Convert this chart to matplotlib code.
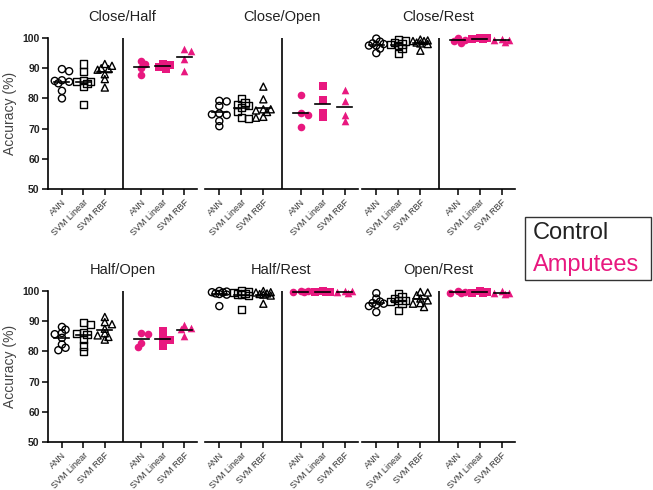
import numpy as np
import matplotlib.pyplot as plt
from matplotlib.patches import Rectangle

plt.rcParams['font.family'] = ['Liberation Sans', 'DejaVu Sans']

# Data: accuracy (%) per subject, [ANN, SVM Linear, SVM RBF]
methods = ['ANN', 'SVM Linear', 'SVM RBF']

close_half_ctrl = [[89.7, 89.0, 86.0, 85.5, 85.8, 85.0, 82.5, 80.0],
                   [91.4, 89.0, 85.5, 85.0, 84.0, 85.6, 78.0, 86.0],
                   [91.4, 90.8, 89.7, 88.0, 86.4, 83.6, 90.0, 89.5]]
close_half_amp = [[92.5, 91.4, 90.2, 87.7],
                  [91.5, 91.0, 89.8, 90.5],
                  [95.8, 96.3, 93.0, 89.1]]

close_open_ctrl = [[79.2, 79.0, 77.5, 74.7, 74.5, 75.0, 72.5, 70.8],
                   [80.0, 78.6, 77.5, 75.8, 76.9, 73.3, 73.6, 78.0],
                   [83.9, 79.7, 76.4, 76.4, 73.6, 73.9, 76.0, 75.5]]
close_open_amp = [[81.2, 75.0, 74.4, 70.5],
                  [84.0, 79.4, 75.3, 73.8],
                  [82.8, 79.2, 74.4, 72.5]]

close_rest_ctrl = [[99.8, 98.8, 98.0, 97.5, 97.5, 96.5, 95.0, 98.2],
                   [99.5, 98.5, 97.5, 96.5, 95.0, 98.0, 99.0, 97.8],
                   [99.5, 99.0, 98.5, 98.0, 99.0, 98.2, 95.8, 99.2]]
close_rest_amp = [[99.0, 99.5, 98.5, 100.0],
                  [99.8, 100.0, 99.6, 99.9],
                  [99.5, 98.8, 99.8, 99.2]]

half_open_ctrl = [[88.1, 87.2, 86.1, 85.7, 84.5, 82.3, 81.2, 80.4],
                  [89.0, 89.7, 86.4, 85.9, 83.9, 81.8, 80.0, 85.5],
                  [91.4, 89.7, 89.0, 87.5, 84.8, 85.3, 83.9, 86.0]]
half_open_amp = [[85.9, 86.1, 82.8, 81.5],
                 [86.6, 84.5, 83.9, 81.8],
                 [88.6, 87.9, 87.5, 85.0]]

half_rest_ctrl = [[99.8, 99.5, 99.2, 100.0, 99.6, 99.0, 98.8, 95.0],
                  [100.0, 99.8, 99.2, 99.5, 98.8, 99.0, 98.5, 93.8],
                  [100.0, 99.5, 99.0, 98.8, 99.6, 99.2, 98.5, 95.8]]
half_rest_amp = [[99.8, 100.0, 99.6, 99.9],
                 [99.6, 100.0, 99.8, 99.7],
                 [99.7, 99.9, 99.5, 100.0]]

open_rest_ctrl = [[99.3, 97.5, 96.5, 96.0, 95.5, 95.8, 95.0, 93.0],
                  [99.1, 97.5, 96.9, 95.8, 93.4, 97.0, 96.5, 98.0],
                  [99.7, 99.5, 98.6, 96.9, 95.8, 94.7, 97.5, 96.0]]
open_rest_amp = [[99.5, 100.0, 99.2, 99.8],
                 [99.3, 99.8, 100.0, 99.5],
                 [99.0, 99.5, 100.0, 99.3]]

titles = ['Close/Half', 'Close/Open', 'Close/Rest',
          'Half/Open', 'Half/Rest', 'Open/Rest']
ctrl_sets = [close_half_ctrl, close_open_ctrl, close_rest_ctrl,
             half_open_ctrl, half_rest_ctrl, open_rest_ctrl]
amp_sets = [close_half_amp, close_open_amp, close_rest_amp,
            half_open_amp, half_rest_amp, open_rest_amp]

PINK = '#e8187f'
markers = ['o', 's', '^']
ctrl_pos = [0, 1, 2]
amp_pos = [3.7, 4.7, 5.7]
divider = 2.85


def spread(vals, ppu_x=21.5, ppu_y=3.02, diam=4.5, step=3.6):
    # simple swarm: shift points sideways when they would overlap
    vals = np.asarray(vals, dtype=float)
    offs = np.zeros(len(vals))
    placed = []
    side = 1
    for i in np.argsort(-vals):
        best, best_d = 0.0, -1
        for k in [0, side, -side, 2 * side, -2 * side]:
            dx = k * step / ppu_x
            if placed:
                d = min(np.hypot((dx - offs[j]) * ppu_x, (vals[i] - vals[j]) * ppu_y)
                        for j in placed)
            else:
                d = 99
            if d >= diam:
                best = dx
                break
            if d > best_d:
                best, best_d = dx, d
        offs[i] = best
        if best != 0:
            side = -side
        placed.append(i)
    return offs


fig = plt.figure(figsize=(6.53, 4.9), dpi=100)
W, H = 653, 490
boxes = [(48, 38, 149), (205, 38, 153), (362, 38, 153),
         (48, 291, 149), (205, 291, 153), (362, 291, 153)]

for n, (x0, y0, w) in enumerate(boxes):
    ax = fig.add_axes([x0 / W, 1 - (y0 + 151) / H, w / W, 151 / H])
    for k in range(3):
        c = np.array(ctrl_sets[n][k])
        ax.scatter(ctrl_pos[k] + spread(c), c, marker=markers[k], s=26,
                   facecolors='none', edgecolors='black', linewidths=1.0,
                   clip_on=False, zorder=3)
        ax.plot([ctrl_pos[k] - 0.35, ctrl_pos[k] + 0.35], [c.mean()] * 2,
                color='black', lw=1.2, zorder=4, clip_on=False)
        a = np.array(amp_sets[n][k])
        ax.scatter(amp_pos[k] + spread(a), a, marker=markers[k], s=30,
                   color=PINK, linewidths=0, clip_on=False, zorder=3)
        ax.plot([amp_pos[k] - 0.35, amp_pos[k] + 0.35], [a.mean()] * 2,
                color='black', lw=1.2, zorder=4, clip_on=False)
    ax.axvline(divider, color='black', lw=1.2)
    ax.set_xlim(-0.65, 6.3)
    ax.set_ylim(50, 100)
    ax.set_xticks(ctrl_pos + amp_pos)
    ax.set_xticklabels(methods * 2, rotation=45, ha='right',
                       rotation_mode='anchor', fontsize=6.5, color='#333333')
    ax.tick_params(axis='x', length=4, width=1.1, pad=2)
    ax.spines['top'].set_visible(False)
    ax.spines['right'].set_visible(False)
    ax.spines['bottom'].set_linewidth(1.2)
    if n % 3 == 0:
        ax.spines['left'].set_linewidth(1.2)
        ax.set_yticks([50, 60, 70, 80, 90, 100])
        ax.tick_params(axis='y', length=4, width=1.1, labelsize=7.5, pad=2)
        for t in ax.get_yticklabels():
            t.set_fontweight('bold')
            t.set_color('#222222')
        ax.set_ylabel('Accuracy (%)', fontsize=10, color='#444444', labelpad=4)
    else:
        ax.spines['left'].set_visible(False)
        ax.set_yticks([])
    ax.set_title(titles[n], fontsize=10.5, pad=12, color='#222222')

# legend box
fig.patches.append(Rectangle((525 / W, 1 - 280 / H), 126 / W, 63 / H,
                             transform=fig.transFigure, fill=False,
                             edgecolor='#333333', lw=1.0))
fig.text(533 / W, 1 - 233 / H, 'Control', fontsize=17, color='#222222', va='center')
fig.text(533 / W, 1 - 265 / H, 'Amputees', fontsize=17, color=PINK, va='center')

fig.savefig('out.png', dpi=100)
